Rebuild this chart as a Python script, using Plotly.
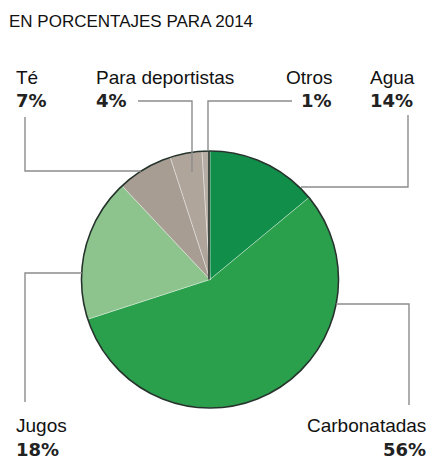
import plotly.graph_objects as go

# Beverage market share, 2014 (percent), clockwise from 12 o'clock
categories = ["Agua", "Carbonatadas", "Jugos", "Té", "Para deportistas", "Otros"]
shares = [14, 56, 18, 7, 4, 1]
slice_colors = ["#118e49", "#2a9f4c", "#8dc48e", "#a89d93", "#afa59b", "#b6ada4"]
title_text = "EN PORCENTAJES PARA 2014"

W, H = 438, 459
CX, CY, R = 210, 279.5, 128.5   # pie centre and radius in pixels

def fx(x):
    return x / W

def fy(y):
    return 1 - y / H

fig = go.Figure(go.Pie(
    labels=categories,
    values=shares,
    sort=False,
    direction="clockwise",
    rotation=0,
    marker=dict(colors=slice_colors, line=dict(color="rgba(255,255,255,0.35)", width=1)),
    textinfo="none",
    hoverinfo="skip",
    showlegend=False,
    domain=dict(x=[fx(CX - R), fx(CX + R)], y=[fy(CY + R), fy(CY - R)]),
))

shapes = []
# dark rim around the pie and the start-of-circle rule
shapes.append(dict(type="circle", xref="paper", yref="paper",
                   x0=fx(CX - R), x1=fx(CX + R), y0=fy(CY + R), y1=fy(CY - R),
                   line=dict(color="#24332b", width=1.6)))
shapes.append(dict(type="line", xref="paper", yref="paper",
                   x0=fx(CX - 1), y0=fy(CY), x1=fx(CX - 1), y1=fy(CY - R),
                   line=dict(color="#24332b", width=1.6)))

# leader lines (pixel polylines)
leaders = [
    [(25, 117), (25, 171), (141, 171)],        # Té
    [(138, 101), (192, 101), (192, 172)],      # Para deportistas
    [(292, 101), (208, 101), (208, 151)],      # Otros
    [(408, 115), (408, 187), (301, 187)],      # Agua
    [(25, 402), (25, 273), (82, 273)],         # Jugos
    [(409, 405), (409, 304), (336, 304)],      # Carbonatadas
]
for pts in leaders:
    path = "M " + " L ".join(f"{fx(x)},{fy(y)}" for x, y in pts)
    shapes.append(dict(type="path", xref="paper", yref="paper", path=path,
                       line=dict(color="#8c8c8c", width=1.4)))

NAME_FONT = dict(family="Liberation Sans, Arial, sans-serif", size=19, color="#111111")
PCT_FONT = dict(family="DejaVu Sans, Arial, sans-serif", size=18, color="#222222")

# label anchor: (x px, name y px, pct y px, anchor)
label_pos = {
    "Té": (14, 77, 101, "left"),
    "Para deportistas": (94, 77, 101, "left"),
    "Otros": (334, 77, 101, "right"),
    "Agua": (368, 77, 101, "left"),
    "Jugos": (14, 425, 449, "left"),
    "Carbonatadas": (428, 425, 449, "right"),
}

annotations = [dict(text=title_text, xref="paper", yref="paper", x=fx(7), y=fy(22),
                    xanchor="left", yanchor="middle", showarrow=False,
                    font=dict(family="Liberation Sans, Arial, sans-serif", size=17, color="#111111"))]
for name, val in zip(categories, shares):
    x, yn, yp, anchor = label_pos[name]
    annotations.append(dict(text=name, xref="paper", yref="paper", x=fx(x), y=fy(yn),
                            xanchor=anchor, yanchor="middle", showarrow=False, font=NAME_FONT))
    annotations.append(dict(text=f"<b>{val}%</b>", xref="paper", yref="paper", x=fx(x), y=fy(yp),
                            xanchor=anchor, yanchor="middle", showarrow=False, font=PCT_FONT))

fig.update_layout(
    width=W, height=H,
    margin=dict(l=0, r=0, t=0, b=0),
    paper_bgcolor="white", plot_bgcolor="white",
    shapes=shapes, annotations=annotations,
)

fig.write_html("out.html")
